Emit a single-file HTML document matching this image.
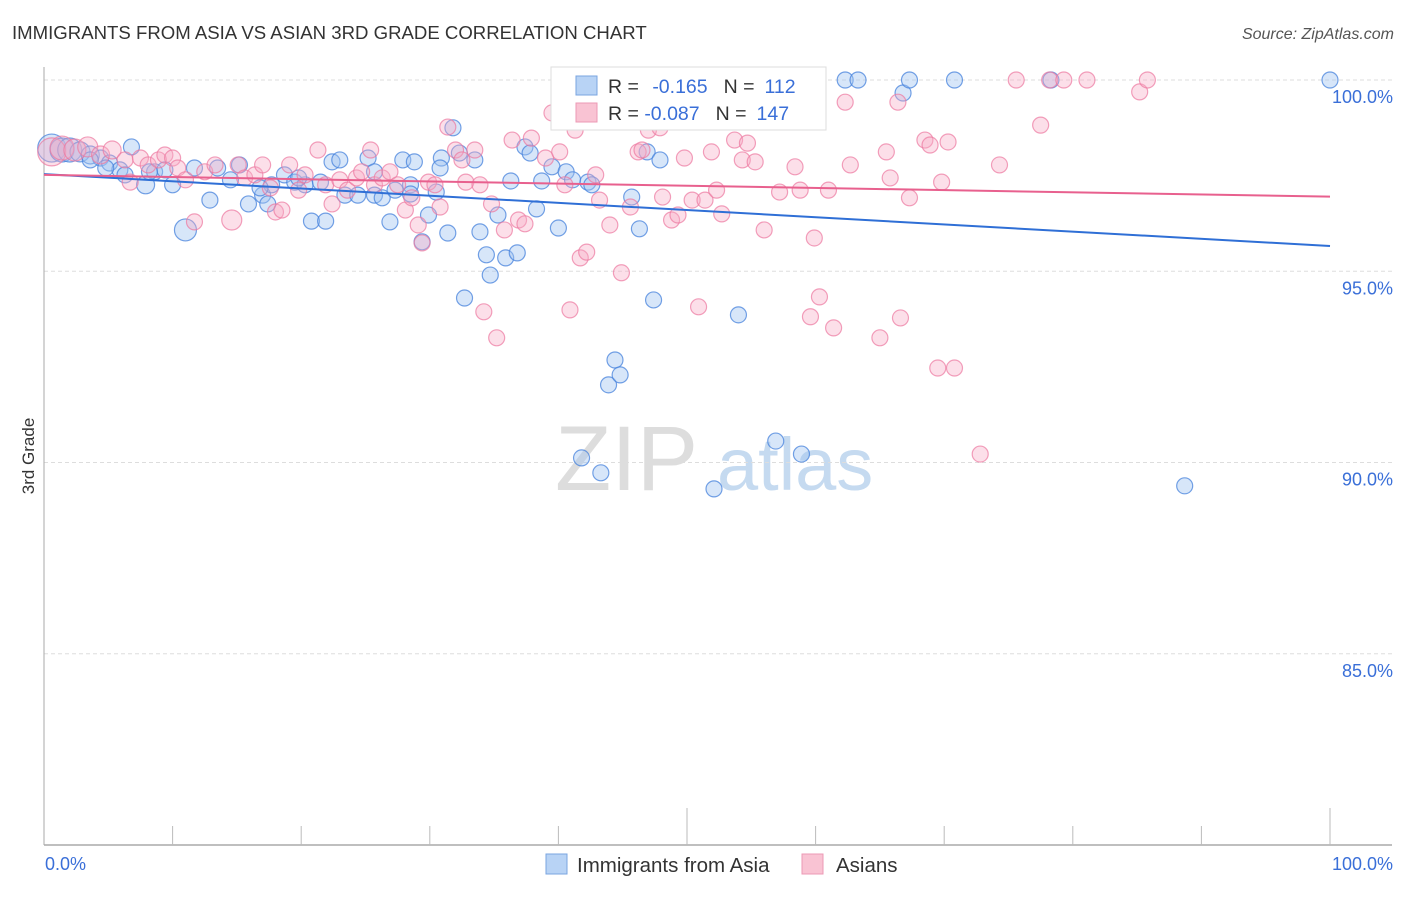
<!DOCTYPE html>
<html><head><meta charset="utf-8"><style>
body{margin:0;background:#fff;font-family:"Liberation Sans",sans-serif;}
svg text{font-family:"Liberation Sans",sans-serif;}
</style></head><body>
<svg id="c" width="1406" height="892" viewBox="0 0 1406 892">
<text x="12" y="39" font-size="18.6" fill="#333">IMMIGRANTS FROM ASIA VS ASIAN 3RD GRADE CORRELATION CHART</text>
<text x="1394" y="39" font-size="16" fill="#555" font-style="italic" text-anchor="end">Source: ZipAtlas.com</text>
<text x="34" y="456" font-size="17" fill="#333" transform="rotate(-90 34 456)" text-anchor="middle">3rd Grade</text>
<g><text x="555" y="490" font-size="92" fill="#ddd" font-family="Liberation Serif,serif">ZIP</text><text x="717" y="490" font-size="74" fill="#c5daf0">atlas</text></g>
<g id="grid"></g><g id="axes"></g><g id="pts"></g><g id="lines"></g>
<g>
<rect x="551" y="67" width="275" height="63" fill="#fff" stroke="#ddd"/>
<rect x="576" y="76" width="21" height="19" fill="#b8d3f5" stroke="#7aa5e0"/>
<rect x="576" y="103" width="21" height="19" fill="#f9c3d3" stroke="#ec9ab5"/>
<text x="608" y="93" font-size="19.5" fill="#333">R = <tspan fill="#3a6fd8" dx="8">-0.165</tspan><tspan dx="16" fill="#333">N =</tspan><tspan dx="10" fill="#3a6fd8">112</tspan></text>
<text x="608" y="120" font-size="19.5" fill="#333">R = <tspan fill="#3a6fd8">-0.087</tspan><tspan dx="16" fill="#333">N =</tspan><tspan dx="10" fill="#3a6fd8">147</tspan></text>
</g>
<g>
<rect x="546" y="854" width="21" height="20" fill="#b8d3f5" stroke="#7aa5e0"/>
<text x="577" y="872" font-size="20.5" fill="#333">Immigrants from Asia</text>
<rect x="802" y="854" width="21" height="20" fill="#f9c3d3" stroke="#ec9ab5"/>
<text x="836" y="872" font-size="20.5" fill="#333">Asians</text>
</g>
</svg>
<script>
const yTicks=[100,95,90,85];
const yTickLabels=["100.0%","95.0%","90.0%","85.0%"];
const xTickLabels=["0.0%","100.0%"];
const blueX=[0.6,1.4,2.0,2.8,3.6,4.4,5.1,5.9,6.8,7.9,8.6,9.4,10.0,11.0,11.7,12.9,13.5,14.5,15.2,15.9,17.0,17.4,17.7,18.7,19.5,20.3,20.8,21.5,21.9,22.4,23.0,23.4,24.4,25.2,25.7,26.3,26.9,27.3,27.9,28.5,28.8,29.4,29.9,30.5,30.9,31.4,31.8,32.3,32.7,33.5,33.9,34.4,34.7,35.3,35.9,36.3,36.8,37.4,37.8,38.3,38.7,39.5,40.0,40.6,41.1,41.8,42.3,42.6,43.3,43.9,44.4,44.8,45.7,46.3,46.9,47.4,47.9,52.1,53.2,54.0,56.9,58.9,62.3,63.3,66.8,67.3,70.8,78.3,88.7,100,3.6,4.8,6.3,8.2,16.8,19.8,25.7,28.5,30.8];
const blueY=[98.22,98.17,98.17,98.12,98.04,97.96,97.83,97.65,98.25,97.26,97.6,97.65,97.26,96.08,97.7,96.86,97.7,97.39,97.78,96.76,96.99,96.76,97.26,97.52,97.33,97.26,96.31,97.33,96.31,97.86,97.91,96.99,96.99,97.96,96.99,96.92,96.29,97.12,97.91,97.26,97.86,95.77,96.47,97.07,97.96,96.0,98.75,98.09,94.3,97.91,96.03,95.43,94.9,96.47,95.35,97.36,95.48,98.25,98.09,96.63,97.36,97.73,96.13,97.6,97.39,90.12,97.33,97.26,89.73,92.03,92.68,92.29,96.94,96.11,98.12,94.25,97.91,89.31,100,93.86,90.56,90.22,100,100,99.66,100,100,100,89.39,100,97.91,97.7,97.52,97.6,97.18,97.44,97.6,97.02,97.7];
const blueW=[14,12,12,10,9,8,8,8,8,9,8,8,8,11,8,8,8,8,8,8,8,8,8,8,8,8,8,8,8,8,8,8,8,8,8,8,8,8,8,8,8,8,8,8,8,8,8,8,8,8,8,8,8,8,8,8,8,8,8,8,8,8,8,8,8,8,8,8,8,8,8,8,8,8,8,8,8,8,8,8,8,8,8,8,8,8,8,8,8,8,8,8,8,8,8,8,8,8,8];
const pinkX=[0.6,1.4,2.4,3.4,4.4,5.3,6.3,6.7,7.5,8.1,8.9,9.4,10.0,10.4,11.0,11.7,12.5,13.3,14.6,15.1,15.6,16.4,17.0,17.6,18.0,18.5,19.1,19.8,20.3,21.3,21.9,22.4,23.0,23.6,24.3,24.7,25.4,25.7,26.3,26.9,27.5,28.1,28.6,29.1,29.4,29.9,30.4,30.8,31.4,32.0,32.5,32.8,33.5,33.9,34.2,34.8,35.2,35.8,36.4,36.9,37.4,37.9,39.0,39.5,40.1,40.5,40.9,41.3,41.7,42.2,42.9,43.2,44.0,44.6,44.9,45.6,46.2,46.5,47.0,47.5,47.9,48.1,48.8,49.3,49.8,50.4,50.9,51.4,51.9,52.3,52.7,53.3,53.7,54.3,54.7,55.3,56.0,56.9,57.2,58.4,58.8,59.6,59.9,60.3,61.0,61.4,62.3,62.7,65.0,65.5,65.8,66.4,66.6,67.3,68.5,68.9,69.5,69.8,70.3,70.8,72.8,74.3,75.6,77.5,78.2,79.3,81.1,85.2,85.8];
const pinkY=[98.12,98.22,98.17,98.25,98.04,98.17,97.91,97.33,97.96,97.78,97.91,98.04,97.96,97.7,97.39,96.29,97.6,97.78,96.34,97.78,97.44,97.52,97.78,97.18,96.55,96.6,97.78,97.12,97.52,98.17,97.26,96.76,97.39,97.12,97.44,97.6,98.17,97.26,97.44,97.6,97.26,96.6,96.92,96.21,95.74,97.33,97.26,96.68,98.77,98.17,97.91,97.33,98.17,97.26,93.94,96.76,93.26,96.08,98.43,96.34,96.24,98.48,97.96,99.14,98.12,97.26,93.99,98.69,95.35,95.5,97.52,96.86,96.21,99.22,94.96,96.68,98.12,98.17,98.69,99.09,98.75,96.94,96.34,96.47,97.96,96.86,94.07,96.86,98.12,97.12,96.5,100,98.43,97.91,98.35,97.86,96.08,99.09,97.07,97.73,97.12,93.81,95.87,94.33,97.12,93.52,99.42,97.78,93.26,98.12,97.44,99.42,93.78,96.92,98.43,98.3,92.47,97.33,98.38,92.47,90.22,97.78,100,98.82,100,100,100,99.69,100];
const pinkW=[14,12,11,10,9,9,8,8,8,8,8,8,8,8,8,8,8,8,10,8,8,8,8,8,8,8,8,8,8,8,8,8,8,8,8,8,8,8,8,8,8,8,8,8,8,8,8,8,8,8,8,8,8,8,8,8,8,8,8,8,8,8,8,8,8,8,8,8,8,8,8,8,8,8,8,8,8,8,8,8,8,8,8,8,8,8,8,8,8,8,8,8,8,8,8,8,8,8,8,8,8,8,8,8,8,8,8,8,8,8,8,8,8,8,8,8,8,8,8,8,8,8,8,8,8,8,8,8,8,8];
const blueTrend=[97.54,95.66];
const pinkTrend=[97.52,96.95];
const NS='http://www.w3.org/2000/svg';
const X0=44,X1=1330,Y0=845,Y1=80;
function sx(v){return X0+(v/100)*(X1-X0);}
function sy(v){return Y0-(v-80)/20*(Y0-Y1);}
function mk(t,a,p){const e=document.createElementNS(NS,t);for(const k in a)e.setAttribute(k,a[k]);p.appendChild(e);return e;}
const grid=document.getElementById('grid'),axes=document.getElementById('axes'),pts=document.getElementById('pts'),lines=document.getElementById('lines');
yTicks.forEach((t,i)=>{
 const l=mk('line',{x1:X0,x2:1392,y1:sy(t),y2:sy(t),stroke:'#ddd','stroke-dasharray':'4,3'},grid);
 
 
 const tx=mk('text',{x:1393,y:sy(t)+23,'font-size':18,fill:'#3a6fd8','text-anchor':'end'},axes);
 tx.textContent=yTickLabels[i];
 
 
});
const ya=mk('line',{x1:X0,x2:X0,y1:67,y2:Y0,stroke:'#aaa'},axes);


const xa=mk('line',{x1:X0,x2:1392,y1:Y0,y2:Y0,stroke:'#aaa','stroke-width':1.5},axes);


for(let k=1;k<=10;k++){
 const v=k*10;const tall=(k==5||k==10);
 const tk=mk('line',{x1:sx(v),x2:sx(v),y1:tall?808:826,y2:Y0,stroke:'#bbb'},axes);
 
 
}
[[0,'start'],[100,'end']].forEach((p,i)=>{
 const tx=mk('text',{x:i?1393:45,y:870,'font-size':18,fill:'#3a6fd8','text-anchor':p[1]},axes);
 tx.textContent=xTickLabels[i];
 
 
});
function drawPts(xs,ys,ws,fill,stroke,name){
 xs.forEach((x,i)=>{
  const c=mk('circle',{cx:sx(x),cy:sy(ys[i]),r:ws[i]||8,fill:fill,stroke:stroke,'stroke-width':1.2},pts);
  
  
 });
}
drawPts(blueX,blueY,blueW,'rgba(160,196,240,0.42)','rgba(70,130,220,0.75)','point-immigrants');
drawPts(pinkX,pinkY,pinkW,'rgba(246,170,196,0.38)','rgba(236,120,160,0.7)','point-asians');
const bl=mk('line',{x1:sx(0),x2:sx(100),y1:sy(blueTrend[0]),y2:sy(blueTrend[1]),stroke:'#2f6fd6','stroke-width':2},lines);


const pl=mk('line',{x1:sx(0),x2:sx(100),y1:sy(pinkTrend[0]),y2:sy(pinkTrend[1]),stroke:'#e8608e','stroke-width':2},lines);


</script>
</body></html>
